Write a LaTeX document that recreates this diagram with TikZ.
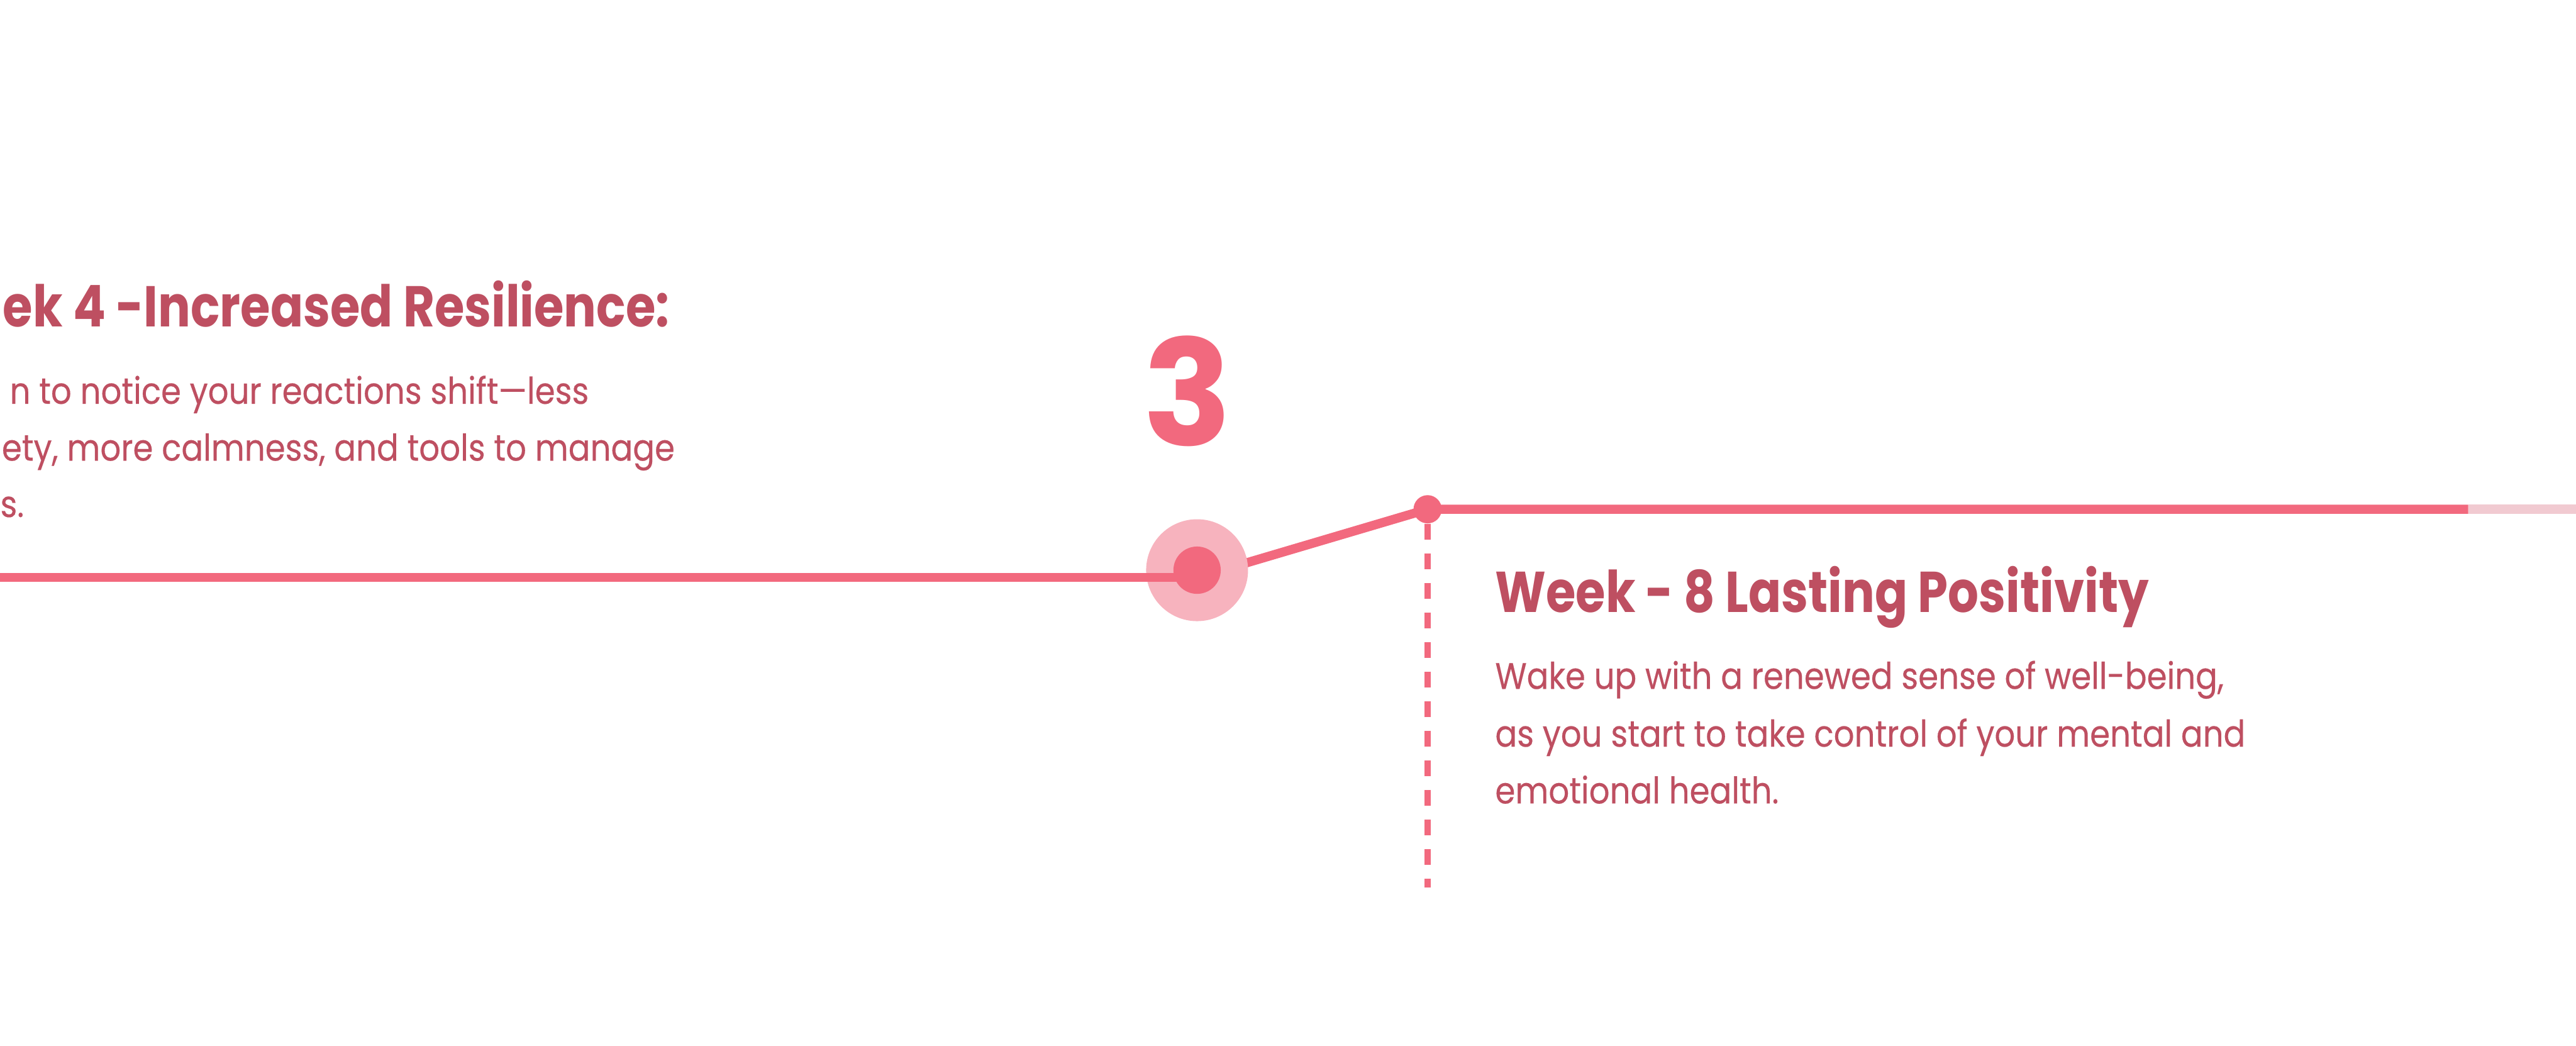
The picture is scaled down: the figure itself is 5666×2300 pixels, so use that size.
\documentclass[tikz,border=0pt]{standalone}
\usepackage{fontspec}
\setmainfont{Poppins}[FakeStretch=0.88,FakeBold=0.3]
\newfontfamily\headfont{Poppins}[FakeStretch=0.84]
\newfontfamily\numfont{Poppins}
\usepackage{tikz}
\usetikzlibrary{positioning}
\definecolor{linecol}{RGB}{242,105,126}
\definecolor{halocol}{RGB}{247,179,190}
\definecolor{fadecol}{RGB}{241,202,209}
\definecolor{textcol}{RGB}{190,79,97}
\tikzset{
  track/.style={draw=linecol,line width=0.2cm},
  head/.style={inner sep=0pt,text=textcol,font=\headfont\fontsize{36}{40}\selectfont\bfseries},
  body/.style={inner sep=0pt,text=textcol,font=\fontsize{23}{28}\selectfont},
  dot/.style={circle,fill=linecol,inner sep=0pt,minimum size=#1},
  halo/.style={circle,fill=halocol,inner sep=0pt,minimum size=2.24cm}
}
\begin{document}
\begin{tikzpicture}[x=0.01cm,y=-0.01cm]
  \useasboundingbox (0,0) rectangle (5666,2300);
  % track
  \coordinate (start) at (0,1270);
  \coordinate (bend) at (2633,1270);
  \coordinate (fade) at (5429,1120);
  \coordinate (end) at (5666,1120);
  \coordinate (dashend) at (3140,1952);
  \node[dot=0.62cm] (m8) at (3140,1120) {};
  \draw[track] (bend) -- (m8.center) -- (fade);
  \draw[fadecol,line width=0.2cm] (fade) -- (end);
  \node[halo] (m3) at (2633,1254) {};
  \draw[track] (start) -- (bend);
  \node[dot=1.04cm] (m3c) at (m3) {};
  \draw[linecol,line width=0.14cm,dash pattern=on 0.35cm off 0.3cm] (m8.south) -- (dashend);
  \node[anchor=base,inner sep=0pt,text=linecol,font=\numfont\fontsize{92}{94}\selectfont\bfseries] (num) at (2612,980) {3};
  % week 4
  \node[head,anchor=base west] (h4) at (6,719) {ek 4 -Increased Resilience:};
  \node[body,anchor=base east] (b4a) at (1296,888) {n to notice your reactions shift—less};
  \node[body,anchor=base east] (b4b) at (1485,1013) {ety, more calmness, and tools to manage};
  \node[body,anchor=base west] (b4c) at (0,1137) {s.};
  % week 8
  \node[head,anchor=base west] (h8) at (3288,1346) {Week - 8 Lasting Positivity};
  \node[body,anchor=base west] (b8a) at (3288,1515) {Wake up with a renewed sense of well-being,};
  \node[body,anchor=base west] (b8b) at (3288,1642) {as you start to take control of your mental and};
  \node[body,anchor=base west] (b8c) at (3288,1767) {emotional health.};
\end{tikzpicture}
\end{document}
